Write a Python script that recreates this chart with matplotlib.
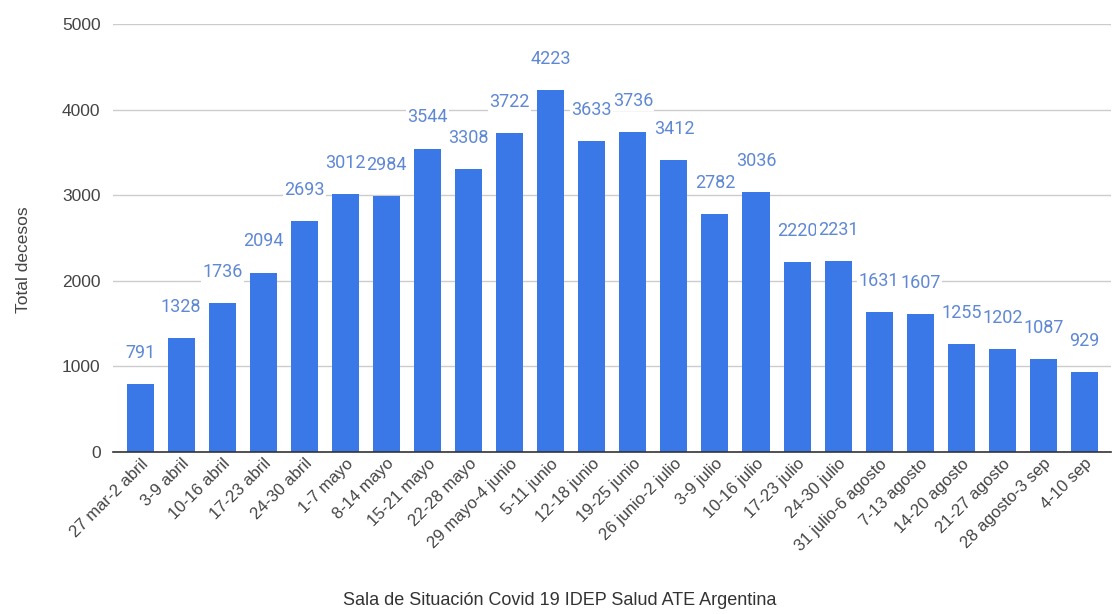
import numpy as np
import matplotlib
matplotlib.use("Agg")
import matplotlib.pyplot as plt

# Weekly totals
semanas = ['27 mar-2 abril', '3-9 abril', '10-16 abril', '17-23 abril', '24-30 abril',
           '1-7 mayo', '8-14 mayo', '15-21 mayo', '22-28 mayo', '29 mayo-4 junio',
           '5-11 junio', '12-18 junio', '19-25 junio', '26 junio-2 julio', '3-9 julio',
           '10-16 julio', '17-23 julio', '24-30 julio', '31 julio-6 agosto', '7-13 agosto',
           '14-20 agosto', '21-27 agosto', '28 agosto-3 sep', '4-10 sep']
decesos = [791, 1328, 1736, 2094, 2693, 3012, 2984, 3544, 3308, 3722,
           4223, 3633, 3736, 3412, 2782, 3036, 2220, 2231, 1631, 1607,
           1255, 1202, 1087, 929]
yticks = [0, 1000, 2000, 3000, 4000, 5000]

plt.rcParams['font.family'] = ['Liberation Sans', 'DejaVu Sans']

fig = plt.figure(figsize=(11.19, 6.14), dpi=100)
ax = fig.add_axes([0.101, 0.264, 0.892, 0.697])

x = np.arange(len(semanas))
ax.bar(x, decesos, width=0.66, color='#3b78e7', zorder=2)

for xi, v in zip(x, decesos):
    ax.annotate(str(v), (xi, v), xytext=(0, 16), textcoords='offset points',
                ha='center', va='bottom', fontsize=13, color='#5f88d4',
                family=['Roboto', 'DejaVu Sans'], zorder=3,
                bbox=dict(boxstyle='square,pad=0.08', fc='white', ec='none'))

ax.set_ylim(0, 5000)
ax.set_xlim(-0.66, len(semanas) - 0.35)
ax.set_yticks(yticks)
ax.set_yticklabels([str(t) for t in yticks], fontsize=12.5, color='#444444')
ax.yaxis.grid(True, color='#cccccc', linewidth=1, zorder=0)
ax.tick_params(axis='y', length=0, pad=9)
ax.tick_params(axis='x', length=0, pad=3)

ax.set_xticks(x)
ax.set_xticklabels(semanas, rotation=45, ha='right', rotation_mode='anchor',
                   fontsize=12, color='#444444')

for s in ['top', 'right', 'left']:
    ax.spines[s].set_visible(False)
ax.spines['bottom'].set_color('#333333')
ax.spines['bottom'].set_linewidth(1.2)
ax.spines['bottom'].set_zorder(3)

ax.set_ylabel('Total decesos', fontsize=12.5, color='#444444')
ax.yaxis.set_label_coords(-0.082, 0.45)
fig.text(0.5, 0.022, 'Sala de Situación Covid 19 IDEP Salud ATE Argentina',
         ha='center', va='center', fontsize=13, color='#333333')

fig.savefig('out.png', dpi=100)
